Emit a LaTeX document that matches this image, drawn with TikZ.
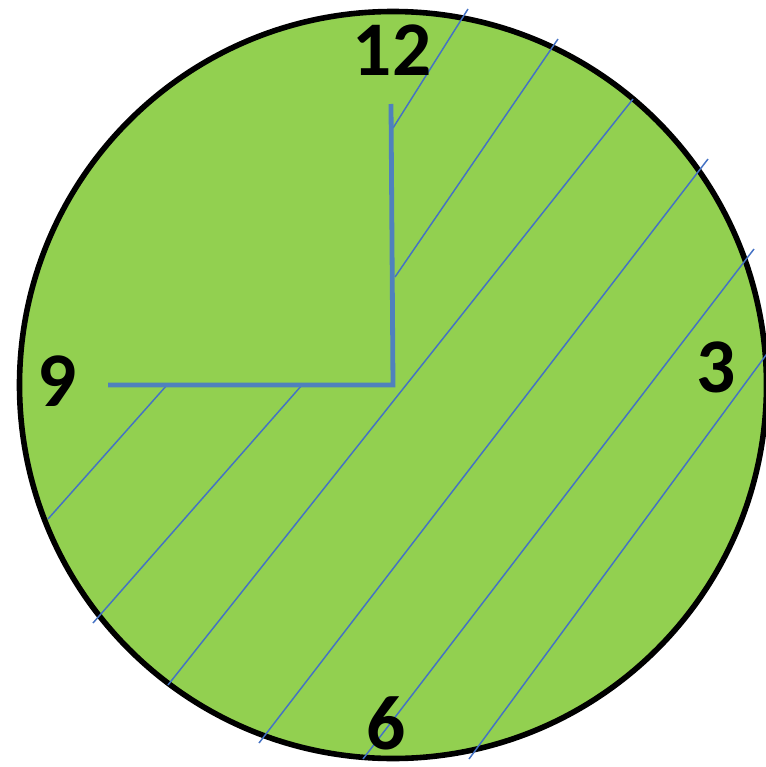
\documentclass[tikz,border=0pt]{standalone}
\usepackage{fontspec}
\setmainfont{Carlito}
\definecolor{dialgreen}{HTML}{92D050}
\definecolor{handblue}{HTML}{4F81BD}
\definecolor{hatchblue}{HTML}{4472C4}

\begin{document}
\begin{tikzpicture}[x=0.75pt, y=-0.75pt,
	every node/.style={font=\fontsize{58}{62}\selectfont\bfseries, inner sep=0pt},
	hand/.style={handblue, line width=3.6pt, line join=miter},
	hatch/.style={hatchblue, line width=1.1pt}]
	\useasboundingbox (0,0) rectangle (765,767);
	\coordinate (centre) at (393,385);
	\draw[line width=4.2pt, fill=dialgreen] (centre) circle (373.5);
	% hatching
	\draw[hatch] (468,9) -- (393,128);
	\draw[hatch] (558,39) -- (395,277);
	\draw[hatch] (633,99) -- (168,685);
	\draw[hatch] (708,159) -- (259,743);
	\draw[hatch] (754,249) -- (363,759);
	\draw[hatch] (769,351) -- (469,759);
	\draw[hatch] (167,385) -- (48,519);
	\draw[hatch] (302,385) -- (93,623);
	% hands
	\coordinate (twelvetip) at (391,104);
	\coordinate (ninetip) at (108,385);
	\draw[hand] (twelvetip) -- (centre) -- (ninetip);
	% numerals
	\node (twelve) at (392,50) {12};
	\node (nine) at (57,381) {9};
	\node (three) at (716,367) {3};
	\node (six) at (386,723) {6};
\end{tikzpicture}
\end{document}
